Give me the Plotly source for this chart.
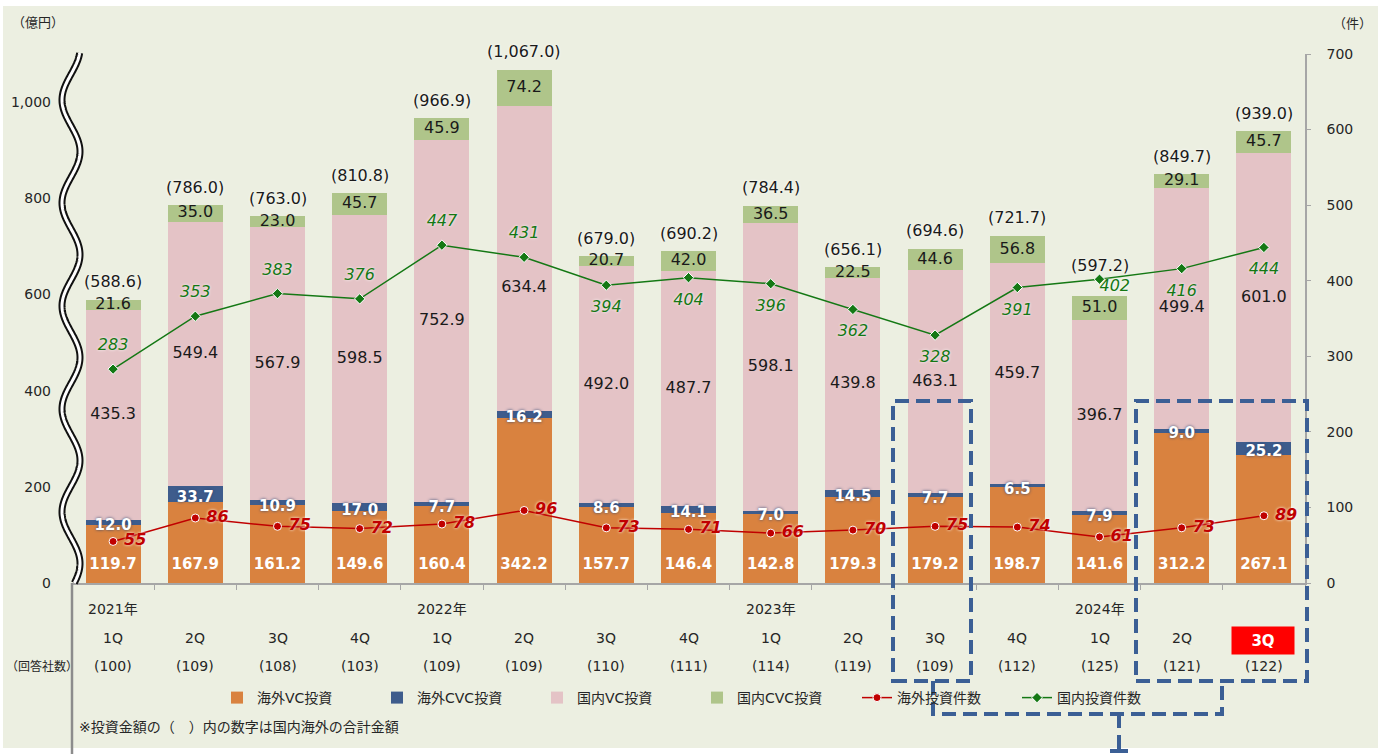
import numpy as np
import plotly.graph_objects as go

# ---------------- data ----------------
categories = ["2021-1Q", "2021-2Q", "2021-3Q", "2021-4Q",
              "2022-1Q", "2022-2Q", "2022-3Q", "2022-4Q",
              "2023-1Q", "2023-2Q", "2023-3Q", "2023-4Q",
              "2024-1Q", "2024-2Q", "2024-3Q"]
quarter_labels = ["1Q", "2Q", "3Q", "4Q", "1Q", "2Q", "3Q", "4Q",
                  "1Q", "2Q", "3Q", "4Q", "1Q", "2Q", "3Q"]
year_labels = ["2021年", "", "", "", "2022年", "", "", "",
               "2023年", "", "", "", "2024年", "", ""]
respondents = [100, 109, 108, 103, 109, 109, 110, 111, 114, 119, 109, 112, 125, 121, 122]

overseas_vc = [119.7, 167.9, 161.2, 149.6, 160.4, 342.2, 157.7, 146.4, 142.8, 179.3, 179.2, 198.7, 141.6, 312.2, 267.1]
overseas_cvc = [12.0, 33.7, 10.9, 17.0, 7.7, 16.2, 8.6, 14.1, 7.0, 14.5, 7.7, 6.5, 7.9, 9.0, 25.2]
domestic_vc = [435.3, 549.4, 567.9, 598.5, 752.9, 634.4, 492.0, 487.7, 598.1, 439.8, 463.1, 459.7, 396.7, 499.4, 601.0]
domestic_cvc = [21.6, 35.0, 23.0, 45.7, 45.9, 74.2, 20.7, 42.0, 36.5, 22.5, 44.6, 56.8, 51.0, 29.1, 45.7]
totals = [588.6, 786.0, 763.0, 810.8, 966.9, 1067.0, 679.0, 690.2, 784.4, 656.1, 694.6, 721.7, 597.2, 849.7, 939.0]

overseas_count = [55, 86, 75, 72, 78, 96, 73, 71, 66, 70, 75, 74, 61, 73, 89]
domestic_count = [283, 353, 383, 376, 447, 431, 394, 404, 396, 362, 328, 391, 402, 416, 444]
# where the domestic count label sits relative to its point
domestic_label_side = ["above"] * 6 + ["below"] * 6 + ["right", "below", "below"]
# pixel gap between bar top and its total label
total_label_gap = [18] * 12 + [30, 18, 18]
# pixel shift (downward) of the domestic VC label from its segment centre
domestic_vc_label_shift = [0] * 5 + [30] + [0] * 9

series_names = ["海外VC投資", "海外CVC投資", "国内VC投資", "国内CVC投資", "海外投資件数", "国内投資件数"]

# ---------------- style ----------------
W, H = 1381, 754
L, R, T, B = 72, 1305, 54, 583
BG = "#ECEFE1"
C_ORANGE = "#D9823F"
C_BLUE = "#3E5C8C"
C_PINK = "#E4C3C6"
C_GREEN = "#AFC58A"
C_RED = "#C00000"
C_DGREEN = "#147814"
FONT = "DejaVu Sans, Noto Sans CJK JP, sans-serif"
JFONT = "DejaVu Sans, Noto Sans CJK JP, sans-serif"
TXT = "#262626"
Y1MAX, Y2MAX = 1100, 700


def px(x):
    return (x - L) / (R - L)


def py(y):
    return (B - y) / (B - T)


u1 = Y1MAX / (B - T)   # left-axis units per pixel
u2 = Y2MAX / (B - T)   # right-axis units per pixel

fig = go.Figure()

# stacked bars
for vals, name, col in [(overseas_vc, series_names[0], C_ORANGE),
                        (overseas_cvc, series_names[1], C_BLUE),
                        (domestic_vc, series_names[2], C_PINK),
                        (domestic_cvc, series_names[3], C_GREEN)]:
    fig.add_trace(go.Bar(x=categories, y=vals, name=name, marker=dict(color=col, line=dict(width=0)),
                         yaxis="y"))

ov = np.array(overseas_vc)
oc = np.array(overseas_cvc)
dv = np.array(domestic_vc)
dc = np.array(domestic_cvc)
tot = np.array(totals)


def text_trace(y, texts, font, pos="middle center", axis="y"):
    return go.Scatter(x=categories, y=y, text=texts, mode="text", showlegend=False, yaxis=axis,
                      textfont=font, textposition=pos, hoverinfo="skip", cliponaxis=False)


# bar labels
fig.add_trace(text_trace([18 * u1] * len(categories), [f"{v:.1f}" for v in overseas_vc],
                         dict(family=FONT, size=15, color="white", weight="bold")))
fig.add_trace(text_trace(ov + oc / 2 - 4 * u1, [f"{v:.1f}" for v in overseas_cvc],
                         dict(family=FONT, size=15, color="white", weight="bold",
                              shadow="0px 0px 3px #2D4670")))
fig.add_trace(text_trace(ov + oc + dv / 2 - np.array(domestic_vc_label_shift) * u1,
                         [f"{v:.1f}" for v in domestic_vc],
                         dict(family=FONT, size=16, color="#1A1A1A")))
fig.add_trace(text_trace(ov + oc + dv + dc / 2, [f"{v:.1f}" for v in domestic_cvc],
                         dict(family=FONT, size=16, color="#1A1A1A")))

# count lines (right axis)
fig.add_trace(go.Scatter(x=categories, y=overseas_count, name=series_names[4], yaxis="y2",
                         mode="lines+markers", cliponaxis=False,
                         line=dict(color=C_RED, width=1.5),
                         marker=dict(symbol="circle", size=8, color=C_RED, line=dict(color="white", width=1))))
fig.add_trace(go.Scatter(x=categories, y=domestic_count, name=series_names[5], yaxis="y2",
                         mode="lines+markers", cliponaxis=False,
                         line=dict(color=C_DGREEN, width=1.5),
                         marker=dict(symbol="diamond", size=8, color=C_DGREEN, line=dict(color="white", width=1))))

# overseas count labels (transparent wide marker pushes text away from the point)
fig.add_trace(go.Scatter(x=categories, y=overseas_count, yaxis="y2", mode="markers+text", showlegend=False,
                         text=[str(v) for v in overseas_count], textposition="middle right",
                         marker=dict(size=16, color="rgba(0,0,0,0)"), hoverinfo="skip", cliponaxis=False,
                         textfont=dict(family=FONT, size=16, color=C_RED, weight="bold", style="italic",
                                       shadow="0px 0px 3px #FFFFFF")))

dom_y = []
dom_pos = []
for v, side in zip(domestic_count, domestic_label_side):
    if side == "above":
        dom_y.append(v + 23 * u2)
        dom_pos.append("middle center")
    elif side == "below":
        dom_y.append(v - 23 * u2)
        dom_pos.append("middle center")
    else:
        dom_y.append(v - 8 * u2)
        dom_pos.append("middle right")
fig.add_trace(text_trace(dom_y, [str(v) for v in domestic_count],
                         dict(family=FONT, size=16, color=C_DGREEN, style="italic",
                              shadow="0px 0px 3px #FFFFFF"), pos=dom_pos, axis="y2"))

# ---------------- shapes ----------------
shapes = []
# chart background panel
shapes.append(dict(type="rect", xref="paper", yref="paper", x0=px(3), x1=px(1378), y0=py(748), y1=py(6),
                   fillcolor=BG, line=dict(width=0), layer="below"))
# vertical gray line below the x axis
shapes.append(dict(type="line", xref="paper", yref="paper", x0=px(72), x1=px(72), y0=py(583), y1=py(760),
                   line=dict(color="#8C8C8C", width=2.5)))
# wavy axis break on the left axis
ys = np.linspace(53, 583, 400)
xs = 71 - 9 * np.cos(2 * np.pi * (ys - 100) / 103)
path = "M " + " L ".join(f"{px(a):.5f},{py(b):.5f}" for a, b in zip(xs, ys))
shapes.append(dict(type="path", xref="paper", yref="paper", path=path, line=dict(color="#111111", width=7)))
shapes.append(dict(type="path", xref="paper", yref="paper", path=path, line=dict(color="#FFFFFF", width=3)))

dash_line = dict(color="#3B5F95", width=4, dash="14px,7px")
shapes.append(dict(type="rect", xref="paper", yref="paper", x0=px(893), x1=px(971), y0=py(681), y1=py(401),
                   line=dash_line))
shapes.append(dict(type="rect", xref="paper", yref="paper", x0=px(1136), x1=px(1307), y0=py(681), y1=py(401),
                   line=dash_line))
conn = (f"M {px(933)},{py(681)} L {px(933)},{py(714)} L {px(1222)},{py(714)} L {px(1222)},{py(681)}")
shapes.append(dict(type="path", xref="paper", yref="paper", path=conn, line=dash_line))
shapes.append(dict(type="path", xref="paper", yref="paper",
                   path=f"M {px(1119)},{py(714)} L {px(1119)},{py(760)}", line=dash_line))
shapes.append(dict(type="path", xref="paper", yref="paper",
                   path=f"M {px(1110)},{py(751)} L {px(1128)},{py(751)}",
                   line=dict(color="#3B5F95", width=4)))

# ---------------- annotations ----------------
ann = []


def label(x, y, text, size=14, xref="paper", xanchor="center", **kw):
    d = dict(x=x, xref=xref, y=y, yref="paper", text=text, showarrow=False,
             xanchor=xanchor, yanchor="middle", font=dict(family=JFONT, size=size, color=TXT))
    d.update(kw)
    return d


# total labels above each bar
for c, t, g in zip(categories, totals, total_label_gap):
    ann.append(dict(x=c, xref="x", y=t, yref="y", yshift=g, text=f"({t:,.1f})", showarrow=False,
                    xanchor="center", yanchor="middle",
                    font=dict(family=FONT, size=16, color="#1A1A1A", shadow="0px 0px 3px #FFFFFF")))

for c, yl, ql, r in zip(categories, year_labels, quarter_labels, respondents):
    if yl:
        ann.append(label(c, py(609), yl, xref="x"))
    if c == categories[-1]:
        ann.append(label(c, py(640), "<b>" + ql + "</b>", size=15, xref="x",
                         font=dict(family=FONT, size=15, color="white"), bgcolor="#FF0000",
                         width=60, height=25, xshift=-1))
    else:
        ann.append(label(c, py(638), ql, xref="x"))
    ann.append(label(c, py(666), f"({r})", xref="x"))

ann.append(label(px(42), py(666), "（回答社数）", size=12))
ann.append(label(px(77), py(727), "※投資金額の（　）内の数字は国内海外の合計金額", xanchor="left"))
ann.append(label(px(38), py(22), "（億円）", size=13))
ann.append(label(px(1352), py(24), "（件）", size=13))

fig.update_layout(
    width=W, height=H,
    margin=dict(l=L, r=W - R, t=T, b=H - B, pad=0),
    paper_bgcolor="white",
    plot_bgcolor="rgba(0,0,0,0)",
    barmode="stack",
    bargap=0.33,
    font=dict(family=FONT, size=14, color=TXT),
    xaxis=dict(type="category", range=[-0.5, len(categories) - 0.5], autorange=False,
               showgrid=False, showticklabels=False, showline=True,
               linecolor="#A6A6A6", linewidth=1.5, ticks="outside", tickson="boundaries",
               ticklen=5, tickcolor="#A6A6A6", zeroline=False, fixedrange=True),
    yaxis=dict(range=[0, Y1MAX], autorange=False, tickvals=[0, 200, 400, 600, 800, 1000],
               ticktext=["0", "200", "400", "600", "800", "1,000"], showgrid=False,
               showline=False, zeroline=False, ticks="", ticklabelstandoff=20,
               tickfont=dict(family=FONT, size=14, color=TXT)),
    yaxis2=dict(range=[0, Y2MAX], autorange=False, overlaying="y", side="right",
                tickvals=[0, 100, 200, 300, 400, 500, 600, 700],
                showgrid=False, showline=True, linecolor="#A6A6A6", linewidth=1.5, zeroline=False,
                ticks="outside", ticklen=4, tickcolor="#A6A6A6", ticklabelstandoff=13,
                tickfont=dict(family=FONT, size=14, color=TXT)),
    legend=dict(orientation="h", x=px(217), xanchor="left", y=py(698), yanchor="middle",
                entrywidth=115, entrywidthmode="pixels", traceorder="normal",
                font=dict(family=JFONT, size=14, color=TXT), bgcolor="rgba(0,0,0,0)"),
    shapes=shapes,
    annotations=ann,
    showlegend=True,
)

fig.write_html("out.html", config={"displayModeBar": False},
               post_script="document.body.style.margin='0px';document.body.style.padding='0px';")
